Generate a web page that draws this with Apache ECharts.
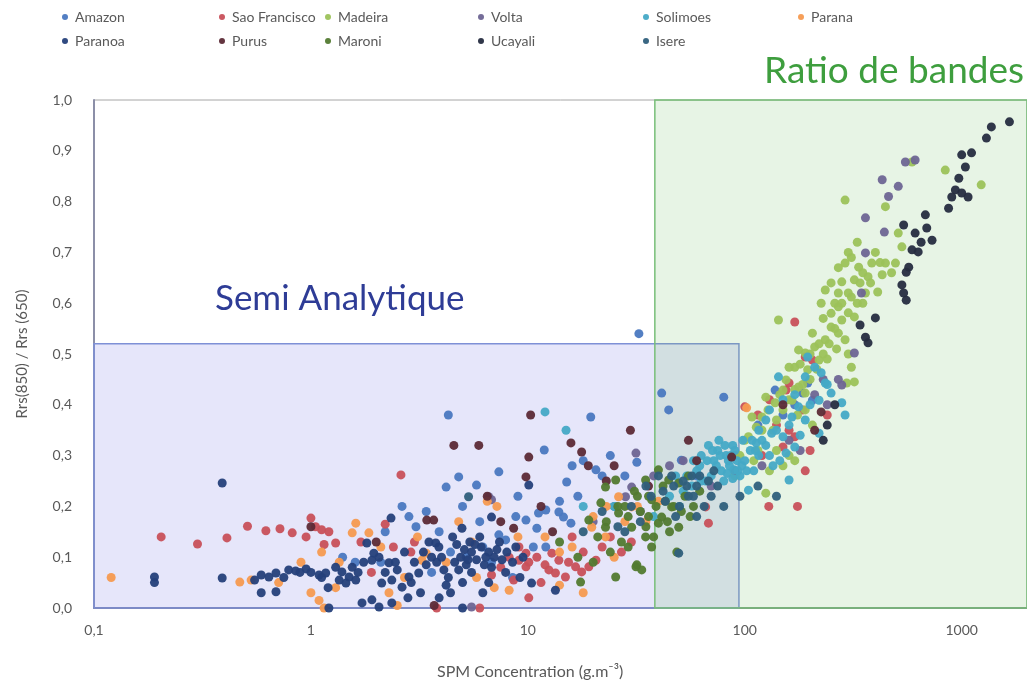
<!DOCTYPE html>
<html>
<head>
<meta charset="utf-8">
<script src="https://cdn.jsdelivr.net/npm/echarts/dist/echarts.min.js"></script>
<style>
html,body{margin:0;padding:0;background:#fff;}
#c{width:1027px;height:683px;}
</style>
</head>
<body>
<div id="c"></div>
<script>
const seriesNames = ['Amazon','Sao Francisco','Madeira','Volta','Solimoes','Parana','Paranoa','Purus','Maroni','Ucayali','Isere'];
const xTickLabels = ['0,1','1','10','100','1000'];
const yTickLabels = ['0,0','0,1','0,2','0,3','0,4','0,5','0,6','0,7','0,8','0,9','1,0'];
const semiAnalytiqueBox = [[0.1,0],[94,0.52]];
const ratioBandesBox = [[38.5,0],[2000,1]];

const amazon = [[4.3,0.38],[19.5,0.376],[11.9,0.311],[31.8,0.287],[20.6,0.272],[4.8,0.258],[4.2,0.238],[5.8,0.242],[7.35,0.268],[15.1,0.248],[12.1,0.193],[11.2,0.187],[13.9,0.189],[14.6,0.179],[15.8,0.167],[9.8,0.173],[11,0.157],[7.35,0.144],[7.9,0.134],[10.6,0.12],[12.1,0.12],[2.63,0.2],[2.83,0.18],[3.05,0.16],[32.5,0.54],[51,0.291],[80,0.415],[41.4,0.423],[44.6,0.39],[195,0.443],[185,0.423],[205,0.409],[138,0.429],[5.2,0.1],[6.2,0.12],[4.4,0.11],[6.8,0.09],[3.6,0.07],[8.5,0.06],[2.2,0.15],[1.6,0.09],[24,0.3],[17,0.22],[22,0.26],[3.4,0.19],[5.0,0.2],[6.0,0.17],[8.8,0.18],[16,0.28],[18,0.29],[25,0.2],[28,0.26],[14,0.21],[9,0.22],[2.1,0.09],[1.4,0.1],[3.9,0.15],[60,0.26],[90,0.3],[150,0.38],[170,0.4],[115,0.36]];
const saoFrancisco = [[0.204,0.14],[0.30,0.126],[0.41,0.138],[0.51,0.161],[0.62,0.152],[0.72,0.156],[0.82,0.148],[1.0,0.177],[1.05,0.16],[1.12,0.154],[1.21,0.15],[1.30,0.128],[2.89,0.11],[2.6,0.262],[9.1,0.12],[9.8,0.108],[10.1,0.09],[12.9,0.108],[13.9,0.094],[15.4,0.09],[16.6,0.081],[17.7,0.071],[19.1,0.081],[20.6,0.094],[12.5,0.075],[13.4,0.069],[14.9,0.061],[8.2,0.1],[9.1,0.094],[9.8,0.081],[11.5,0.05],[10.1,0.02],[66,0.199],[68,0.167],[190,0.494],[205,0.488],[160,0.443],[155,0.429],[100,0.396],[160,0.35],[150,0.317],[170,0.337],[170,0.563],[129,0.2],[175,0.2],[190,0.27],[2.4,0.12],[1.9,0.07],[3.8,0.0],[6,0.0],[22,0.12],[24,0.14],[27,0.11],[30,0.13],[18,0.11],[16,0.14],[11,0.1],[12,0.085],[8.6,0.055],[7.5,0.08],[6.8,0.065],[1.7,0.13],[2.2,0.165],[3.0,0.13],[0.95,0.14],[1.15,0.125],[115,0.38],[140,0.36],[130,0.41],[185,0.39],[240,0.38],[200,0.31],[120,0.3]];
const madeira = [[290,0.803],[840,0.862],[1230,0.833],[445,0.79],[590,0.878],[510,0.738],[530,0.711],[290,0.679],[335,0.671],[385,0.679],[445,0.679],[495,0.679],[250,0.64],[280,0.642],[320,0.646],[370,0.652],[430,0.656],[475,0.66],[235,0.626],[270,0.62],[310,0.612],[360,0.62],[410,0.622],[225,0.6],[270,0.593],[300,0.581],[280,0.567],[320,0.573],[250,0.553],[270,0.541],[235,0.528],[290,0.528],[205,0.541],[210,0.514],[190,0.502],[220,0.488],[177,0.508],[170,0.474],[195,0.469],[310,0.474],[320,0.445],[295,0.443],[160,0.474],[155,0.449],[150,0.429],[177,0.435],[190,0.423],[165,0.409],[125,0.415],[128,0.39],[138,0.404],[120,0.376],[108,0.376],[113,0.356],[104,0.337],[143,0.567],[125,0.226],[260,0.6],[340,0.64],[400,0.7],[230,0.57],[180,0.48],[150,0.39],[135,0.35],[95,0.3],[110,0.29],[90,0.26],[140,0.31],[160,0.3],[300,0.5],[350,0.6],[200,0.45],[215,0.47],[230,0.5],[245,0.52],[260,0.55],[300,0.62],[330,0.6],[350,0.66],[380,0.64],[420,0.68],[250,0.58],[280,0.6],[220,0.52],[240,0.49],[265,0.51],[200,0.5],[185,0.44],[170,0.43],[145,0.42],[160,0.41],[175,0.38],[190,0.39],[205,0.36],[140,0.37],[120,0.35],[100,0.33],[115,0.31],[130,0.27],[150,0.28],[170,0.29],[300,0.7],[330,0.72],[310,0.69],[270,0.67]];
const volta = [[6.6,0.219],[6.8,0.213],[31.5,0.305],[30.1,0.238],[28.2,0.219],[550,0.878],[610,0.882],[430,0.843],[510,0.83],[460,0.81],[360,0.768],[440,0.74],[360,0.699],[345,0.62],[320,0.502],[280,0.439],[5.5,0.002],[20,0.17],[45,0.28],[70,0.24],[120,0.28],[180,0.31],[240,0.4],[270,0.45],[33,0.19],[38,0.26],[52,0.29],[90,0.27],[160,0.33],[210,0.42],[230,0.45]];
const solimoes = [[12,0.386],[143,0.455],[195,0.494],[210,0.474],[190,0.455],[225,0.463],[235,0.443],[250,0.423],[220,0.409],[177,0.396],[165,0.376],[190,0.37],[280,0.404],[290,0.38],[125,0.37],[116,0.35],[133,0.344],[113,0.325],[150,0.337],[170,0.317],[155,0.305],[220,0.344],[98,0.33],[116,0.3],[135,0.28],[160,0.252],[89,0.272],[104,0.232],[63,0.3],[68,0.32],[72,0.29],[75,0.31],[78,0.27],[82,0.3],[85,0.28],[88,0.32],[92,0.29],[70,0.26],[66,0.25],[60,0.27],[57,0.24],[80,0.25],[95,0.26],[100,0.29],[106,0.31],[110,0.27],[52,0.23],[48,0.26],[45,0.22],[120,0.33],[130,0.3],[145,0.29],[15,0.35],[18,0.2],[25,0.2],[38,0.18],[50,0.2],[62,0.28],[67,0.29],[71,0.31],[74,0.28],[77,0.3],[81,0.32],[84,0.29],[86,0.3],[90,0.31],[93,0.27],[97,0.28],[58,0.29],[54,0.26],[63,0.25],[76,0.33],[83,0.265],[88,0.255],[102,0.27],[108,0.33],[112,0.31],[125,0.32],[140,0.35],[160,0.36],[180,0.34],[200,0.4],[240,0.44],[170,0.42],[150,0.41],[130,0.39]];
const parana = [[0.12,0.06],[0.47,0.051],[0.53,0.055],[0.71,0.05],[1.0,0.03],[1.09,0.015],[1.12,0.11],[1.55,0.148],[1.61,0.167],[1.85,0.148],[2.29,0.03],[3.4,0.108],[3.25,0.094],[26.2,0.219],[30.1,0.199],[19.7,0.159],[22.8,0.14],[8.2,0.035],[102,0.394],[2.5,0.005],[1.3,0.04],[4.8,0.17],[3.1,0.14],[6.5,0.21],[7.2,0.2],[5.8,0.06],[7,0.04],[12,0.14],[16,0.12],[18,0.03],[25,0.1],[35,0.17],[40,0.21],[0.9,0.09],[2.1,0.12],[14,0.045],[1.15,0.0],[20,0.18],[23,0.2],[28,0.17],[32,0.2],[14,0.11],[9,0.14],[5.5,0.13],[1.35,0.09],[2.7,0.06],[4.2,0.09]];
const paranoa = [[0.19,0.061],[0.19,0.05],[0.39,0.246],[0.39,0.059],[0.59,0.065],[0.64,0.061],[0.69,0.069],[0.59,0.03],[0.69,0.032],[0.79,0.075],[0.85,0.073],[0.95,0.077],[1.0,0.07],[1.09,0.065],[1.17,0.069],[1.21,0.0],[1.3,0.08],[1.39,0.071],[1.5,0.061],[1.61,0.055],[1.45,0.049],[1.55,0.08],[1.81,0.128],[1.95,0.108],[2.06,0.1],[2.29,0.089],[1.91,0.094],[1.72,0.01],[1.91,0.016],[2.06,0.002],[2.36,0.01],[2.12,0.049],[2.36,0.055],[2.63,0.041],[2.83,0.061],[3.14,0.069],[3.76,0.128],[3.89,0.12],[4.97,0.157],[6.8,0.179],[10.1,0.242],[10.4,0.049],[13.4,0.035],[4.6,0.09],[4.9,0.1],[5.2,0.085],[5.5,0.11],[5.8,0.095],[6.1,0.12],[6.4,0.1],[6.8,0.08],[7.2,0.115],[7.6,0.095],[4.7,0.125],[5.4,0.13],[6.0,0.14],[3.4,0.085],[3.6,0.1],[4.1,0.075],[4.3,0.06],[3.0,0.09],[2.7,0.11],[2.5,0.075],[5.0,0.05],[5.5,0.07],[6.6,0.05],[7.9,0.07],[8.5,0.09],[9.2,0.06],[3.9,0.02],[4.4,0.03],[1.12,0.06],[0.89,0.07],[2.34,0.177],[6.2,0.03],[5.0,0.0],[1.2,0.04],[1.35,0.055],[1.65,0.07],[1.75,0.09],[2.2,0.07],[2.45,0.09],[2.9,0.05],[3.3,0.11],[3.5,0.13],[3.8,0.09],[4.0,0.1],[4.5,0.14],[4.8,0.075],[5.1,0.115],[5.3,0.095],[5.7,0.125],[6.3,0.085],[6.6,0.11],[7.0,0.1],[7.4,0.13],[8.0,0.11],[8.8,0.12],[9.5,0.1],[4.2,0.045],[3.2,0.03],[2.8,0.02],[0.75,0.06],[0.55,0.055]];
const purus = [[4.56,0.32],[5.94,0.32],[10.3,0.38],[29.7,0.35],[15.8,0.325],[17.7,0.307],[10.1,0.297],[9.8,0.258],[3.42,0.173],[3.68,0.173],[8.6,0.157],[87,0.297],[210,0.35],[225,0.386],[2.0,0.13],[6.5,0.22],[7.5,0.17],[13,0.15],[25,0.28],[55,0.33],[60,0.29],[3.7,0.005],[1.0,0.16],[19,0.28],[23,0.25],[11.5,0.2],[36,0.24],[150,0.4]];
const maroni = [[17.5,0.051],[25.4,0.061],[31.5,0.081],[33.5,0.075],[22.8,0.238],[25.4,0.252],[21.7,0.207],[26.2,0.187],[30.1,0.159],[34.9,0.14],[37.2,0.12],[40,0.167],[34.9,0.252],[40,0.272],[44.6,0.252],[49.6,0.246],[37.2,0.213],[46,0.199],[41.4,0.179],[49.6,0.159],[48.6,0.11],[22.8,0.159],[19.1,0.173],[31.8,0.085],[28,0.2],[32,0.22],[36,0.18],[43,0.21],[53,0.22],[58,0.2],[62,0.23],[55,0.26],[45,0.15],[38,0.14],[27,0.13],[24,0.11],[14,0.13],[17,0.1],[21,0.14],[23,0.17],[26,0.2],[29,0.18],[31,0.23],[33,0.19],[36,0.22],[39,0.2],[42,0.24],[47,0.2],[51,0.19],[56,0.18],[44,0.17],[35,0.16],[29,0.12],[20,0.09]];
const ucayali = [[1660,0.957],[1370,0.947],[1300,0.925],[1000,0.892],[1110,0.896],[1040,0.868],[970,0.846],[935,0.823],[1000,0.817],[1070,0.809],[900,0.809],[870,0.787],[680,0.774],[690,0.748],[730,0.724],[650,0.72],[610,0.738],[590,0.705],[630,0.701],[540,0.754],[570,0.671],[555,0.661],[530,0.636],[540,0.62],[555,0.606],[400,0.571],[340,0.557],[360,0.533],[370,0.522],[260,0.4],[240,0.36],[230,0.33]];
const isere = [[5.33,0.219],[43,0.21],[47,0.24],[52,0.25],[57,0.26],[50,0.2],[55,0.22],[60,0.24],[65,0.2],[70,0.22],[75,0.24],[49.6,0.108],[40,0.26],[35,0.24],[30,0.2],[26,0.16],[22,0.19],[18,0.15],[60,0.18],[80,0.2],[95,0.22],[115,0.24],[140,0.22],[37,0.22],[42,0.23],[46,0.26],[54,0.24],[62,0.26],[68,0.25],[72,0.27],[58,0.22],[48,0.18],[33,0.17],[28,0.15]];

const seriesData = [amazon, saoFrancisco, madeira, volta, solimoes, parana, paranoa, purus, maroni, ucayali, isere];
const colors = ['#4A78C0','#C8505A','#9CC25A','#6E6594','#45A9C6','#F59A50','#25407A','#5C2A36','#527A30','#262C40','#2F5F7C'];
const legendX = [62,219,325,478,643,798, 62,219,325,478,643];
const legendY = [10,10,10,10,10,10, 34,34,34,34,34];

const FONT = 'Lato, "Open Sans", sans-serif';
const chart = echarts.init(document.getElementById('c'), null, {renderer:'canvas'});

const legends = seriesNames.map((n,i)=>({
  data:[n], left:legendX[i], top:legendY[i], icon:'circle', itemWidth:6, itemHeight:6, itemGap:0,
  padding:0, textStyle:{fontSize:14, color:'#595959', fontFamily:FONT, padding:[0,0,0,2]}
}));

const series = seriesNames.map((n,i)=>({
  name:n, type:'scatter', data:seriesData[i], symbolSize:9, clip:false, z:3,
  itemStyle:{color:colors[i], opacity:0.95}
}));
series.unshift({
  type:'scatter', data:[], z:1, silent:true,
  markArea:{silent:true, data:[
    [{coord:semiAnalytiqueBox[0], itemStyle:{color:'rgba(105,105,225,0.17)', borderColor:'#7E90D6', borderWidth:1.5}},{coord:semiAnalytiqueBox[1]}],
    [{coord:ratioBandesBox[0], itemStyle:{color:'rgba(110,190,100,0.17)', borderColor:'#78BE78', borderWidth:1.5}},{coord:ratioBandesBox[1]}]
  ]}
});

chart.setOption({
  animation:false,
  backgroundColor:'#fff',
  legend: legends,
  grid:{left:94, right:0, top:100, bottom:75, show:true, borderColor:'#A6A6A6', borderWidth:1},
  xAxis:{type:'log', logBase:10, min:0.1, max:2000,
    axisLine:{show:true, lineStyle:{color:'#7F7F8C', width:2}},
    axisTick:{show:false}, splitLine:{show:false}, minorTick:{show:false},
    axisLabel:{color:'#595959', fontSize:14, fontFamily:FONT, margin:15, showMaxLabel:false,
      formatter:(v)=>{const k=+(+v).toPrecision(6); const idx=[0.1,1,10,100,1000].indexOf(k); return idx>=0?xTickLabels[idx]:'';}}
  },
  yAxis:{type:'value', min:0, max:1, interval:0.1,
    name:'Rrs(850) / Rrs (650)', nameLocation:'middle', nameGap:64, nameRotate:90,
    nameTextStyle:{color:'#595959', fontSize:15, fontFamily:FONT},
    axisLine:{show:true, lineStyle:{color:'#8C8FA8', width:2}},
    axisTick:{show:false}, splitLine:{show:false},
    axisLabel:{color:'#595959', fontSize:14, fontFamily:FONT, margin:22,
      formatter:(v)=>yTickLabels[Math.round(v*10)]}
  },
  graphic:[
    {type:'text', left:215, top:281, style:{text:'Semi Analytique', font:'35px '+FONT, fill:'#2E3C96'}},
    {type:'text', left:764, top:53, style:{text:'Ratio de bandes', font:'37px '+FONT, fill:'#3E9E3E'}},
    {type:'text', left:437, top:664, style:{text:'SPM Concentration (g.m\u207B\u00B3)', font:'16px '+FONT, fill:'#595959'}}
  ],
  series: series
});
</script>
</body>
</html>
